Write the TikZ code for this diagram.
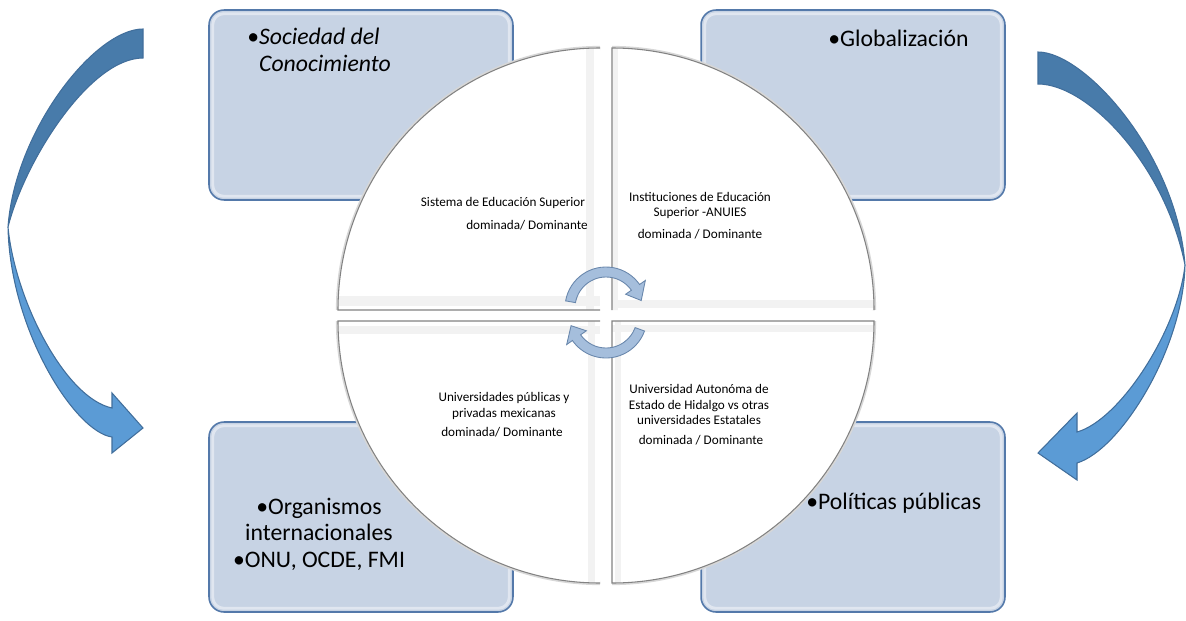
\documentclass[tikz,border=0pt]{standalone}
\usepackage{fontspec}
\setmainfont{Carlito}
\definecolor{boxfill}{RGB}{199,211,228}
\definecolor{boxline}{RGB}{84,121,170}
\definecolor{quadline}{RGB}{130,130,130}
\definecolor{quadshade}{RGB}{215,215,215}
\definecolor{bandcol}{RGB}{242,242,242}
\definecolor{arrdark}{RGB}{72,123,170}
\definecolor{arrlight}{RGB}{91,155,213}
\definecolor{arrline}{RGB}{65,110,155}
\definecolor{cycfill}{RGB}{165,190,220}
\definecolor{cycline}{RGB}{105,135,172}
\begin{document}
\begin{tikzpicture}[x=0.02cm,y=0.02cm,
  box/.style={draw=boxline, fill=boxfill, rounded corners=0.3cm, line width=0.9pt, minimum width=6.08cm, minimum height=3.8cm},
  boxglow/.style={draw=white, draw opacity=0.45, line width=1.6pt, rounded corners=0.22cm},
  band/.style={fill=bandcol},
  rim/.style={draw=quadshade, line width=2.4pt},
  edge/.style={draw=quadline, line width=0.6pt},
  big/.style={font=\fontsize{13.5}{15}\selectfont, inner sep=0pt},
  small/.style={font=\fontsize{7.5}{8.6}\selectfont, align=center, inner sep=0pt},
  darkpart/.style={fill=arrdark, draw=arrline, line width=0.6pt},
  lightpart/.style={fill=arrlight, draw=arrline, line width=0.6pt},
  cyc/.style={fill=cycfill, draw=cycline, line width=0.5pt}]
\useasboundingbox (0,0) rectangle (1186,620);

% ---------- big curved arrows ----------
% left
\path[darkpart] (143,591) .. controls (95,591) and (15,490) .. (8,393)
  .. controls (25,460) and (90,562) .. (143,562) -- cycle;
\path[lightpart] (8,393) .. controls (10,290) and (75,188) .. (112,183)
  -- (112,167) -- (143,192) -- (112,227) -- (112,212)
  .. controls (65,222) and (15,320) .. (8,393) -- cycle;
% right
\path[darkpart] (1038,568) .. controls (1085,568) and (1177,465) .. (1185,355)
  .. controls (1165,455) and (1088,536) .. (1038,536) -- cycle;
\path[lightpart] (1185,355) .. controls (1183,270) and (1120,170) .. (1077,157)
  -- (1077,140) -- (1038,167) -- (1077,207) -- (1077,188)
  .. controls (1120,200) and (1178,290) .. (1185,355) -- cycle;

% ---------- boxes ----------
\node[box] (tl) at (361,515) {};
\node[box] (tr) at (853,515) {};
\node[box] (bl) at (361,103) {};
\node[box] (br) at (853,103) {};
\foreach \b in {tl,tr,bl,br}{
  \draw[boxglow] ([shift={(0.09cm,-0.09cm)}]\b.north west) rectangle ([shift={(-0.09cm,0.09cm)}]\b.south east);
}

% ---------- circle quadrants ----------
\path[rim] (338,310) arc[start angle=180, end angle=90, radius=262];
\path[rim] (612,572) arc[start angle=90, end angle=0, radius=262];
\path[rim] (600,37) arc[start angle=270, end angle=180, radius=262];
\path[rim] (874,299) arc[start angle=0, end angle=-90, radius=262];
\begin{scope}
  \clip (600,310) -- (338,310) arc[start angle=180, end angle=90, radius=262] -- cycle;
  \fill[white] (330,300) rectangle (610,580);
  \fill[band] (330,314) rectangle (600,324);
  \fill[band] (586,300) rectangle (594,580);
\end{scope}
\path[edge] (600,310) -- (338,310) arc[start angle=180, end angle=90, radius=262];
\begin{scope}
  \clip (612,310) -- (612,572) arc[start angle=90, end angle=0, radius=262] -- cycle;
  \fill[white] (605,300) rectangle (880,580);
  \fill[band] (605,312) rectangle (880,320);
  \fill[band] (613,300) rectangle (618,580);
\end{scope}
\path[edge] (612,310) -- (612,572) arc[start angle=90, end angle=0, radius=262];
\begin{scope}
  \clip (600,299) -- (600,37) arc[start angle=270, end angle=180, radius=262] -- cycle;
  \fill[white] (330,30) rectangle (610,305);
  \fill[band] (330,286) rectangle (600,294);
  \fill[band] (588,30) rectangle (595,305);
\end{scope}
\path[edge] (600,37) arc[start angle=270, end angle=180, radius=262] -- (600,299);
\begin{scope}
  \clip (612,299) -- (874,299) arc[start angle=0, end angle=-90, radius=262] -- cycle;
  \fill[white] (605,30) rectangle (880,305);
  \fill[band] (605,288) rectangle (880,295);
  \fill[band] (615,30) rectangle (621,305);
\end{scope}
\path[edge] (612,299) -- (874,299) arc[start angle=0, end angle=-90, radius=262] -- cycle;

% ---------- small cycle arrows ----------
\begin{scope}[shift={(606,312)}]
  \path[cyc] (170:41) arc[start angle=170, end angle=35, radius=41] -- (35:48) -- (12:36)
    -- (35:24) -- (35:31) arc[start angle=35, end angle=170, radius=31] -- cycle;
\end{scope}
\begin{scope}[shift={(606,303)}]
  \path[cyc] (-20:41) arc[start angle=-20, end angle=-145, radius=41] -- (-145:48) -- (-166:36)
    -- (-145:24) -- (-145:31) arc[start angle=-145, end angle=-20, radius=31] -- cycle;
\end{scope}

% ---------- texts ----------
\node[big, anchor=west, align=left] (soc) at (247,570) {•\textit{Sociedad del}\\\phantom{•}\textit{Conocimiento}};
\node[big, anchor=west] (glo) at (828,582) {•Globalización};
\node[big, align=center] (org) at (319,86) {•Organismos\\internacionales\\•ONU, OCDE, FMI};
\node[big, anchor=west] (pol) at (806,117) {•Políticas públicas};

\node[small] (q1a) at (503,417) {Sistema de Educación Superior};
\node[small] (q1b) at (527,395) {dominada/ Dominante};
\node[small] (q2a) at (700,414.5) {Instituciones de Educación\\Superior -ANUIES};
\node[small] (q2b) at (700,386) {dominada / Dominante};
\node[small] (q3a) at (504,214) {Universidades públicas y\\privadas mexicanas};
\node[small] (q3b) at (502,188) {dominada/ Dominante};
\node[small] (q4a) at (699,215.5) {Universidad Autonóma de\\Estado de Hidalgo vs otras\\universidades Estatales};
\node[small] (q4b) at (701,180) {dominada / Dominante};
\end{tikzpicture}
\end{document}
